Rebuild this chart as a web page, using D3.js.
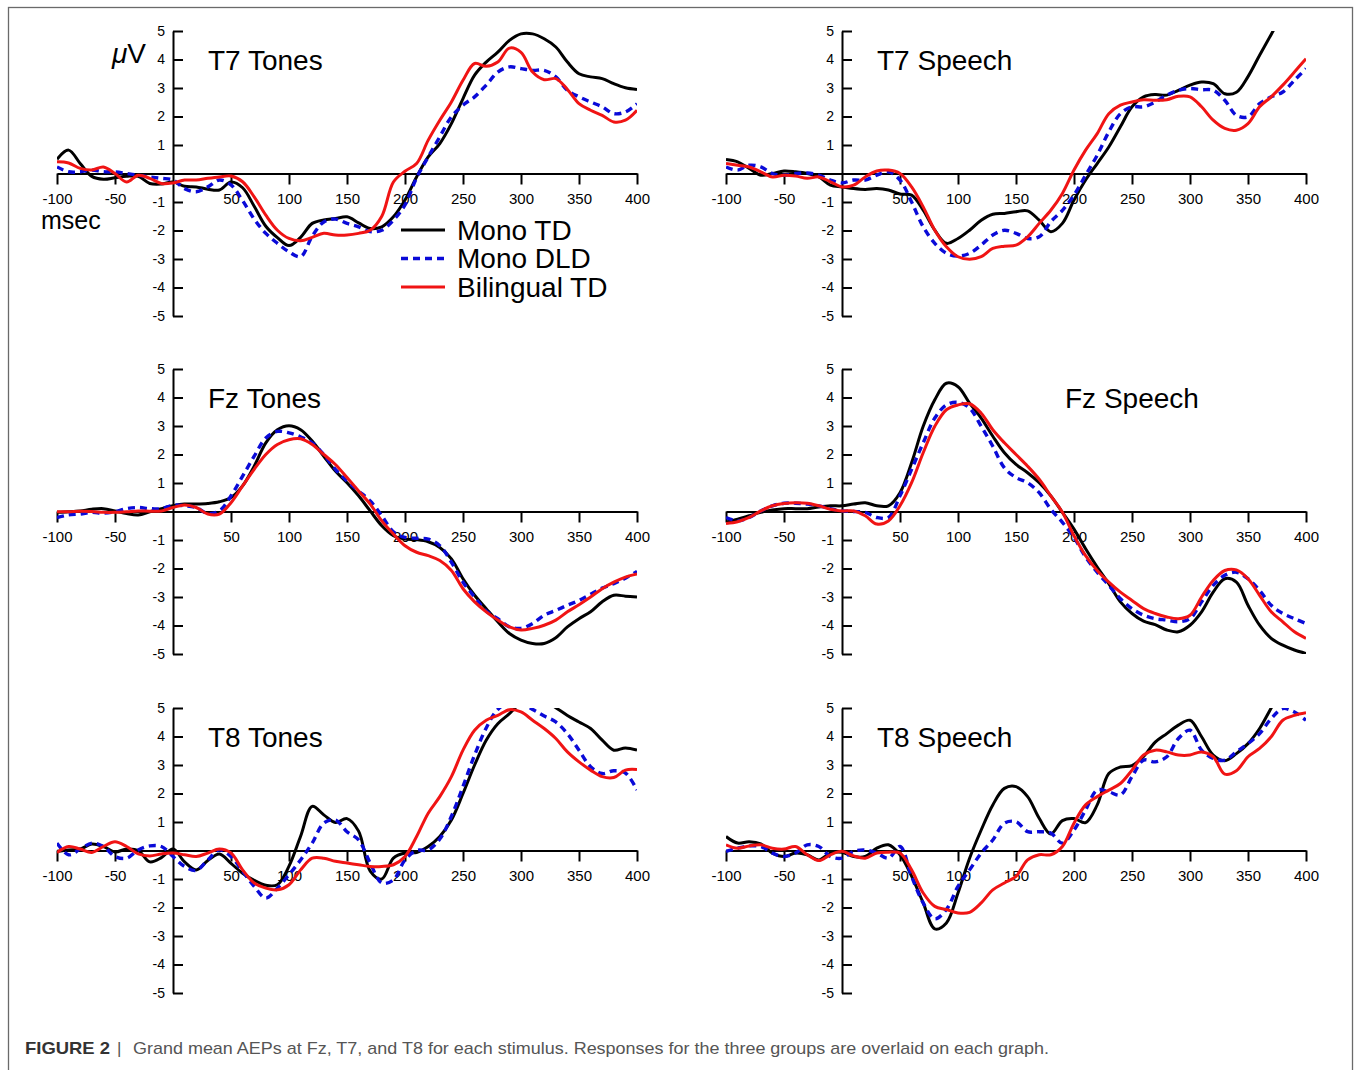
<!DOCTYPE html>
<html>
<head>
<meta charset="utf-8">
<script src="https://cdnjs.cloudflare.com/ajax/libs/d3/7.8.5/d3.min.js"></script>
<title>Grand mean AEPs</title>
<style type="text/css">
	body {
		margin: 0;
		background: #fff;
		font-family: 'Liberation Sans', Arial, sans-serif;
	}
	.axis path, .axis line {
		stroke: #000;
		stroke-width: 2px;
	}
	.axis text {
		fill: #000;
		font-family: 'Liberation Sans', Arial, sans-serif;
	}
</style>
</head>
<body>
<script type="application/javascript">
var times = [-100, -90, -80, -70, -60, -50, -40, -30, -20, -10, 0, 10, 20, 30, 40, 50, 60, 70, 80, 90,
	100, 110, 120, 130, 140, 150, 160, 170, 180, 190, 200, 210, 220, 230, 240, 250, 260, 270, 280, 290,
	300, 310, 320, 330, 340, 350, 360, 370, 380, 390, 400];

var xTicks = [-100, -50, 50, 100, 150, 200, 250, 300, 350, 400];
var yTicks = [-5, -4, -3, -2, -1, 1, 2, 3, 4, 5];

var groups = ["Mono TD", "Mono DLD", "Bilingual TD"];

// T7 tones
var t7TonesMonoTD = [0.5, 0.82, 0.35, -0.1, -0.2, -0.15, -0.1, -0.1, -0.35, -0.37, -0.3, -0.45, -0.47, -0.55, -0.58, -0.3, -0.5, -1.15, -1.85, -2.25,
	-2.53, -2.24, -1.75, -1.63, -1.58, -1.52, -1.73, -1.93, -1.87, -1.52, -0.93, -0.12, 0.58, 1.05, 1.75, 2.63, 3.45, 3.91, 4.26, 4.67,
	4.9, 4.9, 4.73, 4.44, 3.91, 3.5, 3.39, 3.33, 3.15, 3.01, 2.95];
var t7TonesMonoDLD = [0.23, 0.06, 0.06, 0.12, 0.06, 0.06, 0, -0.06, -0.12, -0.17, -0.23, -0.53, -0.64, -0.47, -0.23, -0.4, -0.95, -1.6, -2.1, -2.45,
	-2.75, -2.92, -2.2, -1.7, -1.6, -1.75, -1.87, -2.04, -1.99, -1.64, -1.1, -0.15, 0.58, 1.29, 1.99, 2.4, 2.69, 3.1, 3.56, 3.74,
	3.68, 3.62, 3.62, 3.39, 2.92, 2.69, 2.51, 2.34, 2.1, 2.16, 2.45];
var t7TonesBiTD = [0.41, 0.37, 0.18, 0.12, 0.23, 0, -0.3, -0.06, -0.17, -0.35, -0.33, -0.23, -0.23, -0.17, -0.12, -0.09, -0.29, -0.82, -1.46, -1.99,
	-2.28, -2.36, -2.24, -2.1, -2.16, -2.16, -2.1, -1.99, -1.5, -0.3, 0.08, 0.35, 1.17, 1.87, 2.51, 3.27, 3.86, 3.76, 3.91, 4.4,
	4.25, 3.56, 3.29, 3.33, 2.95, 2.45, 2.22, 2.04, 1.81, 1.87, 2.22];

// T7 speech
var t7SpeechMonoTD = [0.49, 0.41, 0.18, -0.06, 0, 0.09, 0.06, 0, -0.12, -0.41, -0.47, -0.53, -0.56, -0.53, -0.58, -0.72, -0.76, -1.29, -1.99, -2.45,
	-2.28, -1.99, -1.64, -1.43, -1.4, -1.34, -1.31, -1.64, -2.04, -1.75, -0.93, -0.23, 0.35, 0.93, 1.64, 2.34, 2.69, 2.77, 2.75, 2.92,
	3.1, 3.21, 3.15, 2.8, 2.85, 3.4, 4.15, 4.88, 5.6, 6.2, 6.8];
var t7SpeechMonoDLD = [0.23, 0.12, 0.29, 0.23, 0, -0.06, 0, 0.02, -0.06, -0.23, -0.33, -0.23, -0.23, -0.06, 0.06, -0.23, -1.0, -1.87, -2.45, -2.8,
	-2.9, -2.8, -2.51, -2.16, -1.99, -2.1, -2.28, -2.22, -1.69, -1.29, -0.76, -0.06, 0.64, 1.46, 2.1, 2.34, 2.34, 2.51, 2.75, 2.92,
	2.98, 2.94, 2.92, 2.57, 2.04, 1.99, 2.45, 2.69, 2.86, 3.27, 3.68];
var t7SpeechBiTD = [0.35, 0.29, 0.23, 0.06, -0.12, -0.06, -0.09, -0.17, -0.12, -0.29, -0.47, -0.41, -0.12, 0.09, 0.12, 0, -0.47, -1.17, -1.99, -2.57,
	-2.92, -3.01, -2.92, -2.63, -2.55, -2.51, -2.22, -1.75, -1.29, -0.7, 0.12, 0.82, 1.4, 2.1, 2.4, 2.51, 2.59, 2.57, 2.59, 2.71,
	2.69, 2.34, 1.87, 1.58, 1.52, 1.75, 2.34, 2.69, 3.1, 3.56, 4.03];

// Fz tones
var fzTonesMonoTD = [-0.03, -0.01, 0.02, 0.08, 0.1, 0.02, -0.07, -0.12, -0.01, 0.1, 0.2, 0.26, 0.26, 0.28, 0.34, 0.49, 0.9, 1.59, 2.41, 2.87,
	3.01, 2.87, 2.47, 1.94, 1.42, 1.01, 0.55, 0.02, -0.5, -0.85, -0.97, -0.99, -1.06, -1.26, -1.66, -2.36, -2.94, -3.41, -3.87, -4.28,
	-4.51, -4.63, -4.63, -4.43, -4.05, -3.76, -3.52, -3.17, -2.94, -2.97, -3.0];
var fzTonesMonoDLD = [-0.21, -0.12, -0.09, -0.03, -0.06, -0.01, 0.1, 0.14, 0.1, 0.1, 0.22, 0.2, 0.14, -0.07, 0.02, 0.55, 1.24, 1.94, 2.58, 2.81,
	2.76, 2.62, 2.41, 2.0, 1.48, 1.07, 0.72, 0.37, -0.15, -0.71, -0.91, -0.94, -0.97, -1.2, -1.78, -2.48, -3.0, -3.49, -3.76, -4.05,
	-4.1, -3.93, -3.64, -3.47, -3.29, -3.12, -2.9, -2.69, -2.53, -2.34, -2.1];
var fzTonesBiTD = [-0.01, -0.01, 0.01, 0, -0.03, -0.03, -0.01, 0.02, 0.01, 0.02, 0.14, 0.23, 0.14, -0.09, -0.09, 0.31, 0.9, 1.48, 2.0, 2.35,
	2.52, 2.55, 2.35, 2.0, 1.65, 1.19, 0.72, 0.26, -0.33, -0.79, -1.2, -1.43, -1.55, -1.72, -2.07, -2.71, -3.17, -3.52, -3.81, -4.05,
	-4.16, -4.1, -3.99, -3.81, -3.52, -3.27, -3.0, -2.71, -2.48, -2.3, -2.19];

// Fz speech
var fzSpeechMonoTD = [-0.38, -0.27, -0.15, -0.03, 0.05, 0.1, 0.1, 0.1, 0.16, 0.2, 0.2, 0.26, 0.31, 0.2, 0.2, 0.66, 1.71, 2.99, 3.92, 4.5,
	4.38, 3.8, 3.28, 2.64, 2.06, 1.65, 1.36, 1.01, 0.55, -0.03, -0.62, -1.31, -1.95, -2.53, -3.17, -3.58, -3.85, -3.97, -4.16, -4.22,
	-3.99, -3.52, -2.83, -2.36, -2.48, -3.29, -3.99, -4.45, -4.69, -4.86, -4.98];
var fzSpeechMonoDLD = [-0.21, -0.33, -0.21, 0.02, 0.2, 0.29, 0.29, 0.26, 0.2, 0.1, 0.02, 0, -0.03, -0.21, -0.21, 0.55, 1.48, 2.41, 3.28, 3.74,
	3.83, 3.63, 2.99, 2.29, 1.53, 1.19, 1.01, 0.66, 0.08, -0.38, -0.91, -1.6, -2.13, -2.59, -3.06, -3.41, -3.64, -3.76, -3.81, -3.87,
	-3.76, -3.17, -2.59, -2.24, -2.13, -2.36, -2.77, -3.29, -3.58, -3.76, -3.93];
var fzSpeechBiTD = [-0.42, -0.36, -0.21, 0.02, 0.2, 0.28, 0.31, 0.29, 0.2, 0.08, 0.02, 0.02, -0.15, -0.44, -0.33, 0.2, 1.01, 2.06, 2.99, 3.57,
	3.74, 3.78, 3.45, 2.87, 2.41, 2.0, 1.59, 1.13, 0.55, -0.03, -0.85, -1.55, -2.07, -2.48, -2.83, -3.12, -3.41, -3.58, -3.7, -3.76,
	-3.64, -3.0, -2.42, -2.07, -2.05, -2.36, -2.94, -3.52, -3.87, -4.22, -4.45];

// T8 tones
var t8TonesMonoTD = [-0.03, 0.02, 0.05, 0.23, 0.14, -0.05, 0.05, 0, -0.4, -0.25, 0.05, -0.4, -0.68, -0.35, -0.12, -0.45, -0.8, -1.05, -1.22, -1.2,
	-0.55, 0.5, 1.55, 1.25, 0.98, 1.12, 0.68, -0.72, -1.0, -0.27, -0.09, -0.07, 0.14, 0.49, 1.07, 2.0, 3.0, 3.87, 4.45, 4.8,
	5.2, 5.4, 5.27, 5.01, 4.74, 4.51, 4.28, 3.87, 3.52, 3.6, 3.52];
var t8TonesMonoDLD = [0.26, -0.15, 0.05, 0.26, 0.14, -0.21, -0.27, 0.02, 0.16, 0.14, -0.21, -0.56, -0.7, -0.33, 0.02, -0.21, -0.73, -1.26, -1.67, -1.32,
	-0.85, -0.33, 0.26, 0.96, 1.07, 0.66, 0.37, -0.44, -1.14, -1.03, -0.33, 0, 0.02, 0.4, 1.2, 2.25, 3.35, 4.3, 4.95, 5.2,
	5.15, 4.95, 4.72, 4.51, 4.1, 3.52, 2.94, 2.7, 2.8, 2.72, 2.12];
var t8TonesBiTD = [-0.07, 0.14, 0.05, -0.07, 0.14, 0.31, 0.14, -0.12, -0.19, -0.12, -0.09, -0.15, -0.21, -0.09, 0.05, -0.09, -0.68, -1.14, -1.32, -1.38,
	-1.2, -0.68, -0.27, -0.27, -0.38, -0.44, -0.5, -0.56, -0.56, -0.5, -0.21, 0.49, 1.31, 1.89, 2.59, 3.52, 4.22, 4.57, 4.74, 4.94,
	4.86, 4.57, 4.28, 3.93, 3.46, 3.11, 2.82, 2.59, 2.56, 2.82, 2.84];

// T8 speech
var t8SpeechMonoTD = [0.49, 0.26, 0.31, 0.23, -0.09, -0.21, -0.09, -0.15, -0.33, -0.09, -0.06, -0.21, -0.21, 0.08, 0.2, -0.15, -0.9, -1.84, -2.75, -2.54,
	-1.49, -0.27, 0.72, 1.6, 2.18, 2.24, 1.89, 1.13, 0.58, 1.05, 1.12, 0.98, 1.6, 2.7, 2.93, 2.98, 3.3, 3.8, 4.1, 4.4,
	4.57, 3.99, 3.35, 3.15, 3.4, 3.75, 4.28, 5.0, 5.7, 6.4, 7.1];
var t8SpeechMonoDLD = [-0.03, 0.08, 0.16, 0.14, -0.09, -0.21, -0.09, 0.2, 0.14, -0.21, -0.27, -0.03, 0.02, -0.09, -0.27, 0.14, -0.91, -1.84, -2.4, -2.07,
	-1.26, -0.68, -0.09, 0.37, 0.96, 1.01, 0.66, 0.66, 0.61, 0.26, 0.72, 1.42, 2.12, 2.06, 1.95, 2.59, 3.17, 3.11, 3.29, 3.93,
	4.22, 3.52, 3.23, 3.17, 3.46, 3.75, 4.1, 4.63, 4.98, 4.86, 4.57];
var t8SpeechBiTD = [0.2, 0.08, 0.16, 0.2, 0.08, 0.05, 0.14, -0.15, -0.35, -0.15, -0.03, -0.19, -0.27, -0.09, -0.06, -0.09, -0.68, -1.49, -1.96, -2.07,
	-2.19, -2.17, -1.84, -1.38, -1.14, -0.91, -0.33, -0.15, -0.15, 0.14, 0.96, 1.6, 1.89, 2.12, 2.35, 2.82, 3.35, 3.52, 3.46, 3.35,
	3.35, 3.46, 3.29, 2.68, 2.8, 3.29, 3.58, 3.99, 4.57, 4.74, 4.83];

var panels = [
	{title: "T7 Tones", col: 0, row: 0, titleX: 35, series: [t7TonesMonoTD, t7TonesMonoDLD, t7TonesBiTD]},
	{title: "T7 Speech", col: 1, row: 0, titleX: 35, series: [t7SpeechMonoTD, t7SpeechMonoDLD, t7SpeechBiTD]},
	{title: "Fz Tones", col: 0, row: 1, titleX: 35, series: [fzTonesMonoTD, fzTonesMonoDLD, fzTonesBiTD]},
	{title: "Fz Speech", col: 1, row: 1, titleX: 223, series: [fzSpeechMonoTD, fzSpeechMonoDLD, fzSpeechBiTD]},
	{title: "T8 Tones", col: 0, row: 2, titleX: 35, series: [t8TonesMonoTD, t8TonesMonoDLD, t8TonesBiTD]},
	{title: "T8 Speech", col: 1, row: 2, titleX: 35, series: [t8SpeechMonoTD, t8SpeechMonoDLD, t8SpeechBiTD]}
];

var width = 1356, height = 1070;
var colX = [57, 726], rowY = [31, 369, 708];
var plotW = 580, plotH = 285;

var color = d3.scaleOrdinal().domain(groups).range(["#000000", "#0a0ad8", "#f01414"]);
var dash = d3.scaleOrdinal().domain(groups).range(["none", "7,5", "none"]);
var lineWidth = d3.scaleOrdinal().domain(groups).range([3, 3.4, 3]);

var svg = d3.select("body").append("svg")
	.attr("width", width)
	.attr("height", height);

// frame
svg.append("rect")
	.attr("x", 8.5)
	.attr("y", 7.5)
	.attr("width", 1344)
	.attr("height", 1100)
	.attr("fill", "none")
	.attr("stroke", "#6a6a6a")
	.attr("stroke-width", 1.3);

var x = d3.scaleLinear().domain([-100, 400]).range([0, plotW]);
var y = d3.scaleLinear().domain([-5, 5]).range([plotH, 0]);

var line = d3.line()
	.x((d, i) => x(times[i]))
	.y(d => y(d))
	.curve(d3.curveCatmullRom.alpha(0.5));

// plain hyphen for negatives, like the original
var plain = d => String(d);

panels.forEach(function(p, pi) {
	var g = svg.append("g")
		.attr("transform", "translate(" + colX[p.col] + "," + rowY[p.row] + ")");

	g.append("clipPath")
		.attr("id", "clip" + pi)
		.append("rect")
		.attr("x", 0)
		.attr("y", 0)
		.attr("width", plotW)
		.attr("height", plotH);

	var xAxis = g.append("g")
		.attr("class", "axis")
		.attr("transform", "translate(0," + y(0) + ")")
		.call(d3.axisBottom(x).tickValues(xTicks).tickSize(11).tickSizeOuter(0).tickPadding(9).tickFormat(plain));
	xAxis.selectAll("text").style("font-size", "15px");

	var yAxis = g.append("g")
		.attr("class", "axis")
		.attr("transform", "translate(" + x(0) + ",0)")
		.call(d3.axisLeft(y).tickValues(yTicks).tickSize(-10).tickSizeOuter(0).tickPadding(8).tickFormat(plain));
	yAxis.selectAll("text").style("font-size", "14px");

	g.append("text")
		.attr("x", x(0) + p.titleX)
		.attr("y", 39)
		.style("font-size", "28px")
		.text(p.title);

	g.append("g")
		.attr("clip-path", "url(#clip" + pi + ")")
		.selectAll("path")
		.data(p.series)
		.enter().append("path")
			.attr("d", line)
			.attr("fill", "none")
			.attr("stroke", (d, i) => color(groups[i]))
			.attr("stroke-width", (d, i) => lineWidth(groups[i]))
			.attr("stroke-dasharray", (d, i) => dash(groups[i]))
			.attr("stroke-linejoin", "round");
});

// unit labels
var uv = svg.append("text")
	.attr("x", 112)
	.attr("y", 63)
	.style("font-size", "28px");
uv.append("tspan").style("font-style", "italic").text("\u03bc");
uv.append("tspan").text("V");

svg.append("text")
	.attr("x", 41)
	.attr("y", 229)
	.style("font-size", "25px")
	.text("msec");

// legend
var legend = svg.append("g")
	.attr("transform", "translate(401,230)")
	.selectAll("g")
	.data(groups)
	.enter().append("g")
		.attr("transform", (d, i) => "translate(0," + (i * 28.5) + ")");

legend.append("line")
	.attr("x1", 0)
	.attr("x2", 44)
	.attr("stroke", d => color(d))
	.attr("stroke-width", d => lineWidth(d))
	.attr("stroke-dasharray", d => dash(d));

legend.append("text")
	.attr("x", 56)
	.attr("y", 9.5)
	.style("font-size", "28px")
	.text(d => d);

// caption
svg.append("text")
	.attr("x", 25)
	.attr("y", 1054)
	.attr("textLength", 85)
	.attr("lengthAdjust", "spacingAndGlyphs")
	.style("font-size", "17px")
	.style("font-weight", "bold")
	.style("fill", "#333")
	.text("FIGURE 2");

svg.append("text")
	.attr("x", 117)
	.attr("y", 1054)
	.style("font-size", "17px")
	.style("fill", "#555")
	.text("|");

svg.append("text")
	.attr("x", 133)
	.attr("y", 1054)
	.attr("textLength", 916)
	.attr("lengthAdjust", "spacingAndGlyphs")
	.style("font-size", "17px")
	.style("fill", "#555")
	.text("Grand mean AEPs at Fz, T7, and T8 for each stimulus. Responses for the three groups are overlaid on each graph.");
</script>
</body>
</html>
